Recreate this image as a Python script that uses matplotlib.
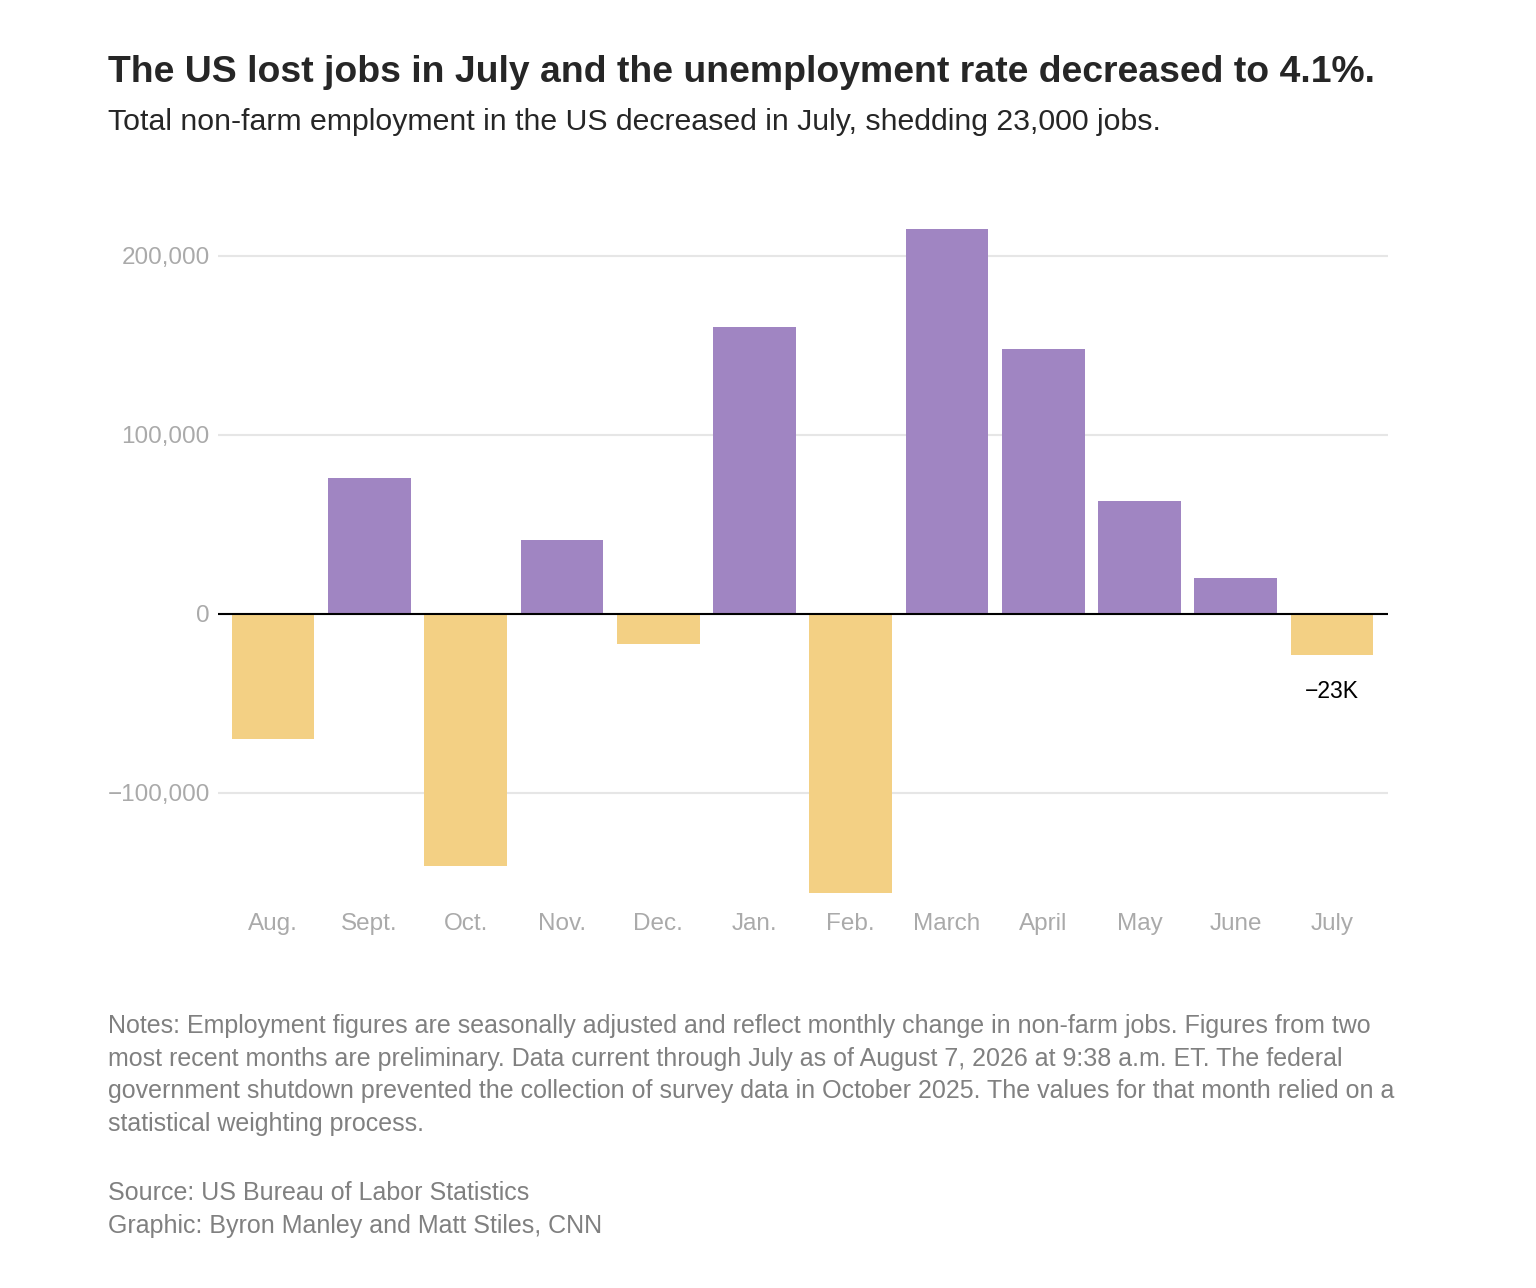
import matplotlib
matplotlib.use("Agg")
import matplotlib.pyplot as plt
from matplotlib.ticker import FuncFormatter

months = ["Aug.", "Sept.", "Oct.", "Nov.", "Dec.", "Jan.", "Feb.", "March", "April", "May", "June", "July"]
values = [-70000, 76000, -141000, 41000, -17000, 160000, -156000, 215000, 148000, 63000, 20000, -23000]
yticks = [-100000, 0, 100000, 200000]

plt.rcParams['font.family'] = ['Liberation Sans', 'DejaVu Sans']
fig = plt.figure(figsize=(15.36, 12.88), dpi=100)
ax = fig.add_axes([0.142, 0.3012, 0.7616, 0.528])
colors = ["#a085c2" if v >= 0 else "#f3d084" for v in values]
ax.bar(range(len(months)), values, width=0.86, color=colors, zorder=2)
ax.set_xlim(-0.571, len(months) - 1 + 0.58)
ax.set_ylim(-160000, 220000)
ax.set_yticks(yticks)
ax.yaxis.set_major_formatter(FuncFormatter(lambda v, p: f"{int(v):,}".replace("-", "\u2212")))
ax.grid(axis='y', color='#e6e6e6', linewidth=1.5, zorder=0)
ax.axhline(0, color='black', linewidth=1.5, zorder=3)
for s in ax.spines.values():
    s.set_visible(False)
ax.set_xticks(range(len(months)))
ax.set_xticklabels(months)
ax.tick_params(axis='both', length=0, labelsize=17.5, labelcolor='#aaaaaa')
ax.tick_params(axis='x', pad=9)
ax.tick_params(axis='y', pad=6)
ax.annotate("\u221223K", xy=(11, values[-1]), xytext=(0, -18), textcoords='offset points',
            ha='center', va='top', fontsize=16.5, color='black')

fig.text(108/1536, 1-73/1288, "The US lost jobs in July and the unemployment rate decreased to 4.1%.",
         fontsize=26.9, fontweight='bold', color='#262626', va='center')
fig.text(108/1536, 1-122/1288, "Total non-farm employment in the US decreased in July, shedding 23,000 jobs.",
         fontsize=21.8, color='#262626', va='center')
notes = ("Notes: Employment figures are seasonally adjusted and reflect monthly change in non-farm jobs. Figures from two\n"
         "most recent months are preliminary. Data current through July as of August 7, 2026 at 9:38 a.m. ET. The federal\n"
         "government shutdown prevented the collection of survey data in October 2025. The values for that month relied on a\n"
         "statistical weighting process.")
fig.text(108/1536, 1-1014/1288, notes, fontsize=18, color='#808080', va='top', linespacing=1.45)
fig.text(108/1536, 1-1181/1288, "Source: US Bureau of Labor Statistics\nGraphic: Byron Manley and Matt Stiles, CNN",
         fontsize=18, color='#808080', va='top', linespacing=1.45)
fig.savefig("out.png", dpi=100, facecolor='white')
